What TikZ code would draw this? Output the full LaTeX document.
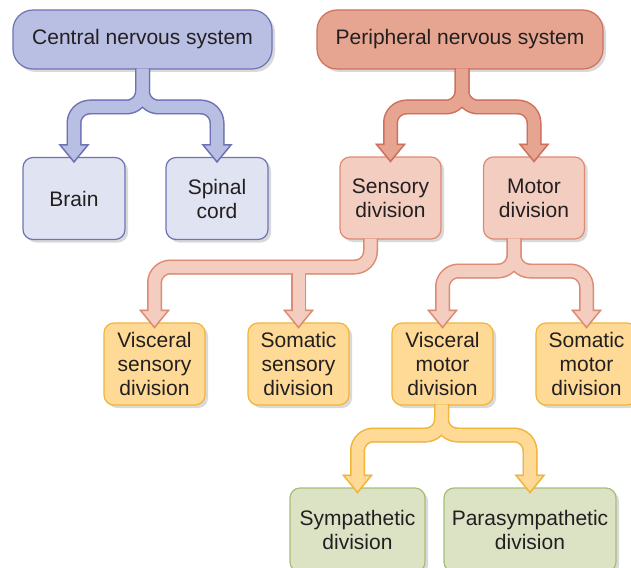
\documentclass[tikz,border=0pt]{standalone}
\usepackage{fontspec}
\setmainfont{Liberation Sans}
\usetikzlibrary{calc,shadows}
\definecolor{cnsF}{HTML}{B9BFE3}
\definecolor{cnsB}{HTML}{6E73B5}
\definecolor{cnsL}{HTML}{E0E3F2}
\definecolor{pnsF}{HTML}{E6A590}
\definecolor{pnsB}{HTML}{D0705C}
\definecolor{secF}{HTML}{F3CDBF}
\definecolor{secB}{HTML}{DF8A72}
\definecolor{yelF}{HTML}{FEDA96}
\definecolor{yelB}{HTML}{F3B43A}
\definecolor{grnF}{HTML}{DCE3C5}
\definecolor{grnB}{HTML}{A6BE76}
\definecolor{txt}{HTML}{231F20}
\tikzset{
  box/.style={draw=#1, line width=1.2pt, align=center, inner sep=0pt, text=txt,
    font=\fontsize{21}{24}\selectfont,
    drop shadow={shadow xshift=3pt, shadow yshift=-3pt, opacity=0.25, fill=black!60}},
  bigbox/.style={box=#1, rounded corners=20pt, minimum height=59pt},
  smallbox/.style={box=#1, rounded corners=10pt, minimum width=101pt, minimum height=82pt},
  pipeB/.style={line width=15pt, draw=#1, rounded corners=16pt},
  pipeF/.style={line width=12pt, draw=#1, rounded corners=16pt},
  pipeS/.style={line width=15pt, draw=black!55, rounded corners=16pt},
}
\newcommand\ahead[3]{\filldraw[fill=#2, draw=#3, line width=1.5pt, line join=miter]
  ($(#1)+(-14,-17)$) -- ($(#1)+(14,-17)$) -- (#1) -- cycle;}
\newcommand\aheadS[1]{\fill[black!55] ($(#1)+(-14.8,-18)$) -- ($(#1)+(14.8,-18)$) -- ($(#1)+(0,1.5)$) -- cycle;}
\begin{document}
\begin{tikzpicture}[x=1pt, y=-1pt]
\clip (0,0) rectangle (631,567);
\useasboundingbox (0,0) rectangle (631,567);

% boxes
\node[bigbox=cnsB, fill=cnsF, minimum width=259pt] (cns) at (142.5,39.5) {Central nervous system};
\node[bigbox=pnsB, fill=pnsF, minimum width=286pt] (pns) at (460,39.5) {Peripheral nervous system};
\node[smallbox=cnsB, fill=cnsL, minimum width=102pt] (brain) at (74,198.5) {Brain};
\node[smallbox=cnsB, fill=cnsL, minimum width=102pt] (spinal) at (217,198.5) {Spinal\\cord};
\node[smallbox=secB, fill=secF] (sens) at (390.5,198) {Sensory\\division};
\node[smallbox=secB, fill=secF] (motor) at (534,198) {Motor\\division};
\node[smallbox=yelB, fill=yelF] (vsens) at (154.5,364) {Visceral\\sensory\\division};
\node[smallbox=yelB, fill=yelF] (ssens) at (298.5,364) {Somatic\\sensory\\division};
\node[smallbox=yelB, fill=yelF] (vmot) at (442.5,364) {Visceral\\motor\\division};
\node[smallbox=yelB, fill=yelF] (smot) at (586.5,364) {Somatic\\motor\\division};
\node[smallbox=grnB, fill=grnF, minimum width=135pt, minimum height=84pt] (symp) at (357.5,530) {Sympathetic\\division};
\node[smallbox=grnB, fill=grnF, minimum width=172pt, minimum height=84pt] (para) at (530,530) {Parasympathetic\\division};

% connector coordinates
\coordinate (c0) at ($(cns.south)+(0,-1)$);
\coordinate (p0) at ($(pns.south)+(2,-1)$);
\coordinate (s0) at ($(sens.south)+(-20,-1)$);
\coordinate (m0) at ($(motor.south)+(-20,-1)$);
\coordinate (v0) at ($(vmot.south)+(-1,-1)$);
\coordinate (cJ) at (c0 |- 0,107);
\coordinate (pJ) at (p0 |- 0,107);
\coordinate (sJ) at (s0 |- 0,267);
\coordinate (mJ) at (m0 |- 0,271);
\coordinate (vJ) at (v0 |- 0,435);
\coordinate (ssJ) at (ssens.north |- 0,267);
\foreach \n in {brain,spinal,sens,motor,vsens,ssens,vmot,smot,symp,para}{
  \coordinate (\n T) at ($(\n.north)+(0,5)$);
  \coordinate (\n B) at ($(\n.north)+(0,-12)$);
  \coordinate (\n F) at ($(\n.north)+(0,-9)$);
}

% pipe shadows
\begin{scope}[transparency group, opacity=0.2, shift={(3,3)}]
  \draw[pipeS] (c0) -- (cJ) -| (brainB);
  \draw[pipeS] (c0) -- (cJ) -| (spinalB);
  \draw[pipeS] (p0) -- (pJ) -| (sensB);
  \draw[pipeS] (p0) -- (pJ) -| (motorB);
  \draw[pipeS] (s0) -- (sJ) -| (vsensB);
  \draw[pipeS] (ssJ) -- (ssensB);
  \draw[pipeS] (m0) -- (mJ) -| (vmotB);
  \draw[pipeS] (m0) -- (mJ) -| (smotB);
  \draw[pipeS] (v0) -- (vJ) -| (sympB);
  \draw[pipeS] (v0) -- (vJ) -| (paraB);
  \foreach \n in {brain,spinal,sens,motor,vsens,ssens,vmot,smot,symp,para}{\aheadS{\n T}}
\end{scope}

% pipe outlines
\draw[pipeB=cnsB] (c0) -- (cJ) -| (brainB);
\draw[pipeB=cnsB] (c0) -- (cJ) -| (spinalB);
\draw[pipeB=pnsB] (p0) -- (pJ) -| (sensB);
\draw[pipeB=pnsB] (p0) -- (pJ) -| (motorB);
\draw[pipeB=secB] (s0) -- (sJ) -| (vsensB);
\draw[pipeB=secB] (ssJ) -- (ssensB);
\draw[pipeB=secB] (m0) -- (mJ) -| (vmotB);
\draw[pipeB=secB] (m0) -- (mJ) -| (smotB);
\draw[pipeB=yelB] (v0) -- (vJ) -| (sympB);
\draw[pipeB=yelB] (v0) -- (vJ) -| (paraB);

% arrow heads
\ahead{brainT}{cnsF}{cnsB}
\ahead{spinalT}{cnsF}{cnsB}
\ahead{sensT}{pnsF}{pnsB}
\ahead{motorT}{pnsF}{pnsB}
\ahead{vsensT}{secF}{secB}
\ahead{ssensT}{secF}{secB}
\ahead{vmotT}{secF}{secB}
\ahead{smotT}{secF}{secB}
\ahead{sympT}{yelF}{yelB}
\ahead{paraT}{yelF}{yelB}

% pipe fills
\draw[pipeF=cnsF] (c0) -- (cJ) -| (brainF);
\draw[pipeF=cnsF] (c0) -- (cJ) -| (spinalF);
\draw[pipeF=pnsF] (p0) -- (pJ) -| (sensF);
\draw[pipeF=pnsF] (p0) -- (pJ) -| (motorF);
\draw[pipeF=secF] (s0) -- (sJ) -| (vsensF);
\draw[pipeF=secF] (ssJ) -- (ssensF);
\draw[pipeF=secF] (m0) -- (mJ) -| (vmotF);
\draw[pipeF=secF] (m0) -- (mJ) -| (smotF);
\draw[pipeF=yelF] (v0) -- (vJ) -| (sympF);
\draw[pipeF=yelF] (v0) -- (vJ) -| (paraF);
\end{tikzpicture}
\end{document}
